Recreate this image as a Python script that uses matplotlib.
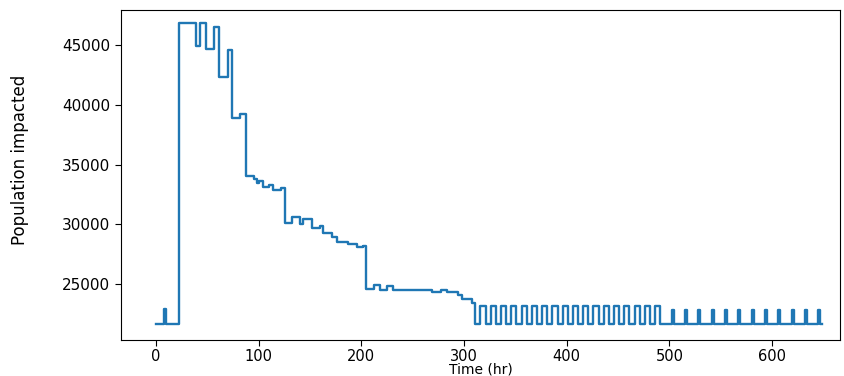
import matplotlib
matplotlib.use("Agg")
import matplotlib.pyplot as plt

# step breakpoints in hours, population impacted from each breakpoint on
start_hours = [0, 8, 10, 22]
start_pop = [21650, 22900, 21650, 46800]

peak_hours = [39, 43, 49, 57, 61, 70, 74, 82, 88]
peak_pop = [44900, 46800, 44700, 46500, 42300, 44600, 38900, 39200, 34050]

decline_hours = [95, 98, 100, 104, 110, 114, 122, 126, 132, 140, 143, 152,
                 160, 163, 171, 176, 187, 196, 202]
decline_pop = [33800, 33450, 33600, 33100, 33300, 32850, 33050, 30100, 30600,
               30050, 30440, 29680, 29850, 29260, 28930, 28510, 28340, 28090,
               28150]

plateau_hours = [205, 212, 218, 225, 231, 269, 278, 283, 294, 298, 308]
plateau_pop = [24570, 24900, 24500, 24850, 24500, 24330, 24500, 24330, 24070,
               23730, 23400]

cycle_hours = [311, 316, 321, 326, 331, 336, 341, 346, 351, 356, 361, 366,
               371, 376, 381, 386, 391, 396, 401, 406, 411, 416, 421, 426,
               431, 436, 441, 446, 451, 456, 461, 466, 471, 476, 481, 486, 491]
cycle_pop = [21650, 23200, 21650, 23200, 21650, 23200, 21650, 23200, 21650,
             23200, 21650, 23200, 21650, 23200, 21650, 23200, 21650, 23200,
             21650, 23200, 21650, 23200, 21650, 23200, 21650, 23200, 21650,
             23200, 21650, 23200, 21650, 23200, 21650, 23200, 21650, 23200,
             21650]

spike_hours = [502, 504, 515, 517, 528, 530, 541, 543, 554, 556, 567, 569,
               580, 582, 593, 595, 606, 608, 619, 621, 632, 634, 645, 647, 648]
spike_pop = [22850, 21650, 22850, 21650, 22850, 21650, 22850, 21650, 22850,
             21650, 22850, 21650, 22850, 21650, 22850, 21650, 22850, 21650,
             22850, 21650, 22850, 21650, 22850, 21650, 21650]

hours = start_hours + peak_hours + decline_hours + plateau_hours + cycle_hours + spike_hours
pop = start_pop + peak_pop + decline_pop + plateau_pop + cycle_pop + spike_pop

fig = plt.figure(figsize=(8.45, 3.76), dpi=100)
ax = fig.add_axes([121 / 845, 36 / 376, 719 / 845, 330 / 376])
ax.plot(hours, pop, drawstyle="steps-post", color="#1f77b4", linewidth=1.7)

ax.set_xlim(-34, 666)
ax.set_ylim(20314, 47929)
ax.set_xticks([0, 100, 200, 300, 400, 500, 600])
ax.set_yticks([25000, 30000, 35000, 40000, 45000])
ax.tick_params(labelsize=11, length=4.5, pad=3.5)
ax.tick_params(axis="x", labelsize=10.5, pad=2)

ax.set_xlabel("Time (hr)", fontsize=10, labelpad=-1)
ax.set_ylabel("Population impacted", fontsize=12,
              family=["Liberation Sans Narrow", "DejaVu Sans"])
ax.yaxis.set_label_coords(-0.128, 0.545)

fig.savefig("out.png", dpi=100)
